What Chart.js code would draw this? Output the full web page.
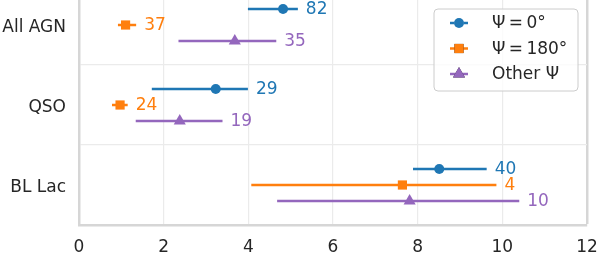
<!DOCTYPE html>
<html>
<head>
<meta charset="utf-8">
<script src="https://cdn.jsdelivr.net/npm/chart.js@4"></script>
<style>
  html, body { margin: 0; padding: 0; background: #fff; }
  #wrap { width: 598px; height: 254px; position: relative; }
</style>
</head>
<body>
<div id="wrap"><canvas id="chart"></canvas></div>
<script>
// categories, top to bottom
const categories = ["All AGN", "QSO", "BL Lac"];
const seriesLabels = ["\u03A8\u2009=\u20090\u00B0", "\u03A8\u2009=\u2009180\u00B0", "Other \u03A8"];

// central values
const psi0 = [4.82, 3.23, 8.51];
const psi180 = [1.10, 0.97, 7.64];
const psiOther = [3.68, 2.38, 7.81];

// error bar ends
const psi0Low = [3.99, 1.72, 7.89];
const psi0High = [5.17, 3.99, 9.63];
const psi180Low = [0.92, 0.78, 4.07];
const psi180High = [1.35, 1.15, 9.86];
const psiOtherLow = [2.35, 1.34, 4.68];
const psiOtherHigh = [4.66, 3.39, 10.40];

// number of sources
const psi0Count = [82, 29, 40];
const psi180Count = [37, 24, 4];
const psiOtherCount = [35, 19, 10];

const xTicks = [0, 2, 4, 6, 8, 10, 12];

const colors = ["#1f77b4", "#ff7f0e", "#9467bd"];
const spine = "#d6d6d6";
const gridColor = "#ebebeb";
const offsets = [-0.2, 0, 0.2];

function points(vals, k) {
  return vals.map((v, i) => ({ x: v, y: i + offsets[k] }));
}

const errors = [
  { lo: psi0Low, hi: psi0High, n: psi0Count },
  { lo: psi180Low, hi: psi180High, n: psi180Count },
  { lo: psiOtherLow, hi: psiOtherHigh, n: psiOtherCount },
];

// horizontal error bars + counts
const errorBars = {
  id: "errorBars",
  beforeDatasetsDraw(chart) {
    const { ctx, scales: { x } } = chart;
    ctx.save();
    chart.data.datasets.forEach((ds, k) => {
      const meta = chart.getDatasetMeta(k);
      ctx.strokeStyle = ds.borderColor;
      ctx.lineWidth = 2.5;
      meta.data.forEach((pt, i) => {
        ctx.beginPath();
        ctx.moveTo(x.getPixelForValue(errors[k].lo[i]), pt.y);
        ctx.lineTo(x.getPixelForValue(errors[k].hi[i]), pt.y);
        ctx.stroke();
      });
    });
    ctx.restore();
  },
  afterDatasetsDraw(chart) {
    const { ctx, scales: { x } } = chart;
    ctx.save();
    ctx.font = "17px 'DejaVu Sans'";
    ctx.textBaseline = "middle";
    ctx.textAlign = "left";
    chart.data.datasets.forEach((ds, k) => {
      const meta = chart.getDatasetMeta(k);
      ctx.fillStyle = ds.borderColor;
      meta.data.forEach((pt, i) => {
        ctx.fillText(String(errors[k].n[i]), x.getPixelForValue(errors[k].hi[i]) + 8, pt.y + 1);
      });
    });
    ctx.restore();
  }
};

// legend box inside the axes, upper right
const legendBox = {
  id: "legendBox",
  afterDraw(chart) {
    const { ctx, chartArea } = chart;
    const w = 144, h = 82;
    const left = chartArea.right - 9 - w, top = chartArea.top + 9;
    ctx.save();
    ctx.beginPath();
    ctx.roundRect(left, top, w, h, 4);
    ctx.fillStyle = "rgba(255,255,255,0.8)";
    ctx.fill();
    ctx.strokeStyle = "#cccccc";
    ctx.lineWidth = 1;
    ctx.stroke();
    ctx.font = "17px 'DejaVu Sans'";
    ctx.textBaseline = "middle";
    chart.data.datasets.forEach((ds, k) => {
      const cy = top + 14 + k * 25.5;
      const cx = left + 25;
      ctx.strokeStyle = ds.borderColor;
      ctx.lineWidth = 2.5;
      ctx.beginPath();
      ctx.moveTo(cx - 9, cy);
      ctx.lineTo(cx + 9, cy);
      ctx.stroke();
      Chart.helpers.drawPoint(ctx, {
        pointStyle: ds.pointStyle, radius: ds.pointRadius, borderWidth: 0, rotation: 0
      }, cx, cy);
      ctx.fillStyle = ds.borderColor;
      ctx.fill();
      ctx.fillStyle = "#262626";
      ctx.fillText(ds.label, left + 58, cy + 1);
    });
    ctx.restore();
  }
};

const styles = ["circle", "rect", "triangle"];
const radii = [5, 6.5, 7];
const seriesData = [psi0, psi180, psiOther];

Chart.defaults.font.family = "'DejaVu Sans'";
Chart.defaults.font.size = 17;
Chart.defaults.color = "#262626";

new Chart(document.getElementById("chart"), {
  type: "scatter",
  data: {
    datasets: seriesData.map((vals, k) => ({
      label: seriesLabels[k],
      data: points(vals, k),
      pointStyle: styles[k],
      pointRadius: radii[k],
      pointHoverRadius: radii[k],
      backgroundColor: colors[k],
      borderColor: colors[k],
      borderWidth: 0,
    })),
  },
  options: {
    responsive: true,
    maintainAspectRatio: false,
    animation: false,
    events: [],
    layout: { padding: 0, autoPadding: false },
    plugins: { legend: { display: false }, tooltip: { enabled: false } },
    scales: {
      x: {
        type: "linear",
        min: 0,
        max: 12,
        afterBuildTicks: (axis) => { axis.ticks = xTicks.map(v => ({ value: v })); },
        afterFit: (axis) => {
          axis.height = 29;
          axis.paddingLeft = 0;
          axis.paddingRight = 11;
        },
        ticks: { padding: 12, autoSkip: false, maxRotation: 0 },
        grid: {
          drawTicks: false,
          color: (c) => (c.tick && c.tick.value === 12 ? spine : gridColor),
          lineWidth: (c) => (c.tick && c.tick.value === 12 ? 2.5 : 1.2),
        },
        border: { color: spine, width: 2.5 },
      },
      y: {
        type: "linear",
        reverse: true,
        min: -0.3125,
        max: 2.5,
        afterBuildTicks: (axis) => {
          axis.ticks = [0, 0.5, 1, 1.5, 2].map(v => ({ value: v }));
        },
        afterFit: (axis) => {
          axis.width = 79;
          axis.paddingTop = 0;
          axis.paddingBottom = 0;
        },
        ticks: {
          padding: 13,
          labelOffset: 3,
          autoSkip: false,
          callback: (v) => (Number.isInteger(v) ? categories[v] : ""),
        },
        grid: {
          drawTicks: false,
          color: (c) => (c.tick && !Number.isInteger(c.tick.value) ? gridColor : "rgba(0,0,0,0)"),
          lineWidth: 1.2,
        },
        border: { color: spine, width: 2.5 },
      },
    },
  },
  plugins: [errorBars, legendBox],
});
</script>
</body>
</html>
